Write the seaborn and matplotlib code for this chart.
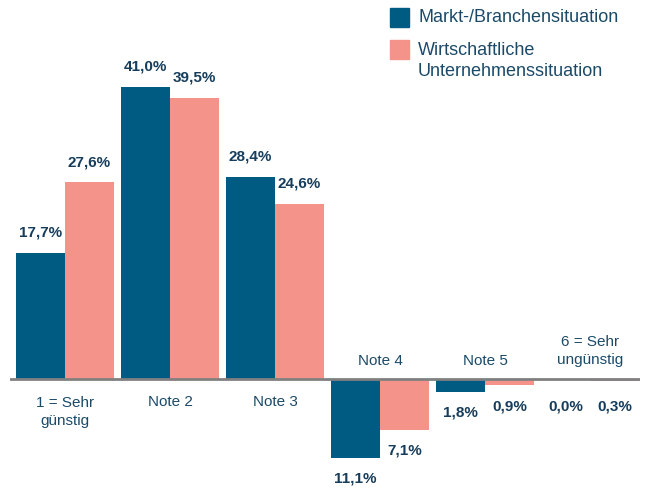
import matplotlib
matplotlib.use("Agg")
import matplotlib.pyplot as plt
import seaborn as sns
import pandas as pd
from matplotlib.patches import Rectangle

categories = ["1 = Sehr\ngünstig", "Note 2", "Note 3", "Note 4", "Note 5", "6 = Sehr\nungünstig"]
series = ["Markt-/Branchensituation", "Wirtschaftliche\nUnternehmenssituation"]
markt = [17.7, 41.0, 28.4, -11.1, -1.8, 0.0]
wirtschaft = [27.6, 39.5, 24.6, -7.1, -0.9, -0.3]

colors = ["#005b82", "#f4938a"]
text_col = "#1b4a68"
val_col = "#163d5c"

df = pd.DataFrame({
    "cat": categories * 2,
    "serie": [series[0]] * 6 + [series[1]] * 6,
    "wert": markt + wirtschaft,
})

sns.set_theme(style="white")
plt.rcParams["font.family"] = ["Liberation Sans", "DejaVu Sans"]

fig = plt.figure(figsize=(6.5, 4.88), dpi=100)
ax = fig.add_axes([10 / 650, 0, 630 / 650, 1])

sns.barplot(data=df, x="cat", y="wert", hue="serie", palette=colors,
            width=0.933, gap=0, order=categories, hue_order=series,
            legend=False, ax=ax, saturation=1, linewidth=0)

ax.set_xlim(-0.524, 5.476)
ax.set_ylim(-15.3, 53.2)
ax.axhline(0, color="#808080", lw=2, zorder=5)
ax.axis("off")

px = 7.12  # pixels per percent point

# value labels
off = 0.4665 / 2
for i, (a, b) in enumerate(zip(markt, wirtschaft)):
    for x, v in ((i - off, a), (i + off, b)):
        lab = f"{abs(v):.1f}%".replace(".", ",")
        if v > 0:
            y = v + 2.8
        else:
            y = min(v, -1.0) - 2.9
        ax.text(x, y, lab, ha="center", va="center", fontsize=11,
                fontweight="bold", color=val_col)

# category labels
for i, c in enumerate(categories):
    n = c.count("\n") + 1
    shift = (n - 1) * 20 / 2 / px
    neg = markt[i] <= 0 and wirtschaft[i] <= 0
    y = 18 / px + shift if neg else -23 / px - shift
    ax.text(i, y, c, ha="center", va="center", fontsize=11,
            color=text_col, linespacing=1.31)

# legend
fig.patches.append(Rectangle((390 / 650, 1 - 27 / 488), 19 / 650, 19 / 488,
                             transform=fig.transFigure, color=colors[0]))
fig.patches.append(Rectangle((390 / 650, 1 - 59 / 488), 19 / 650, 19 / 488,
                             transform=fig.transFigure, color=colors[1]))
fig.text(418 / 650, 1 - 17 / 488, series[0], ha="left", va="center",
         fontsize=13, color=text_col)
fig.text(418 / 650, 1 - 61 / 488, series[1], ha="left", va="center",
         fontsize=13, color=text_col, linespacing=1.27)

fig.savefig("out.png", dpi=100)
